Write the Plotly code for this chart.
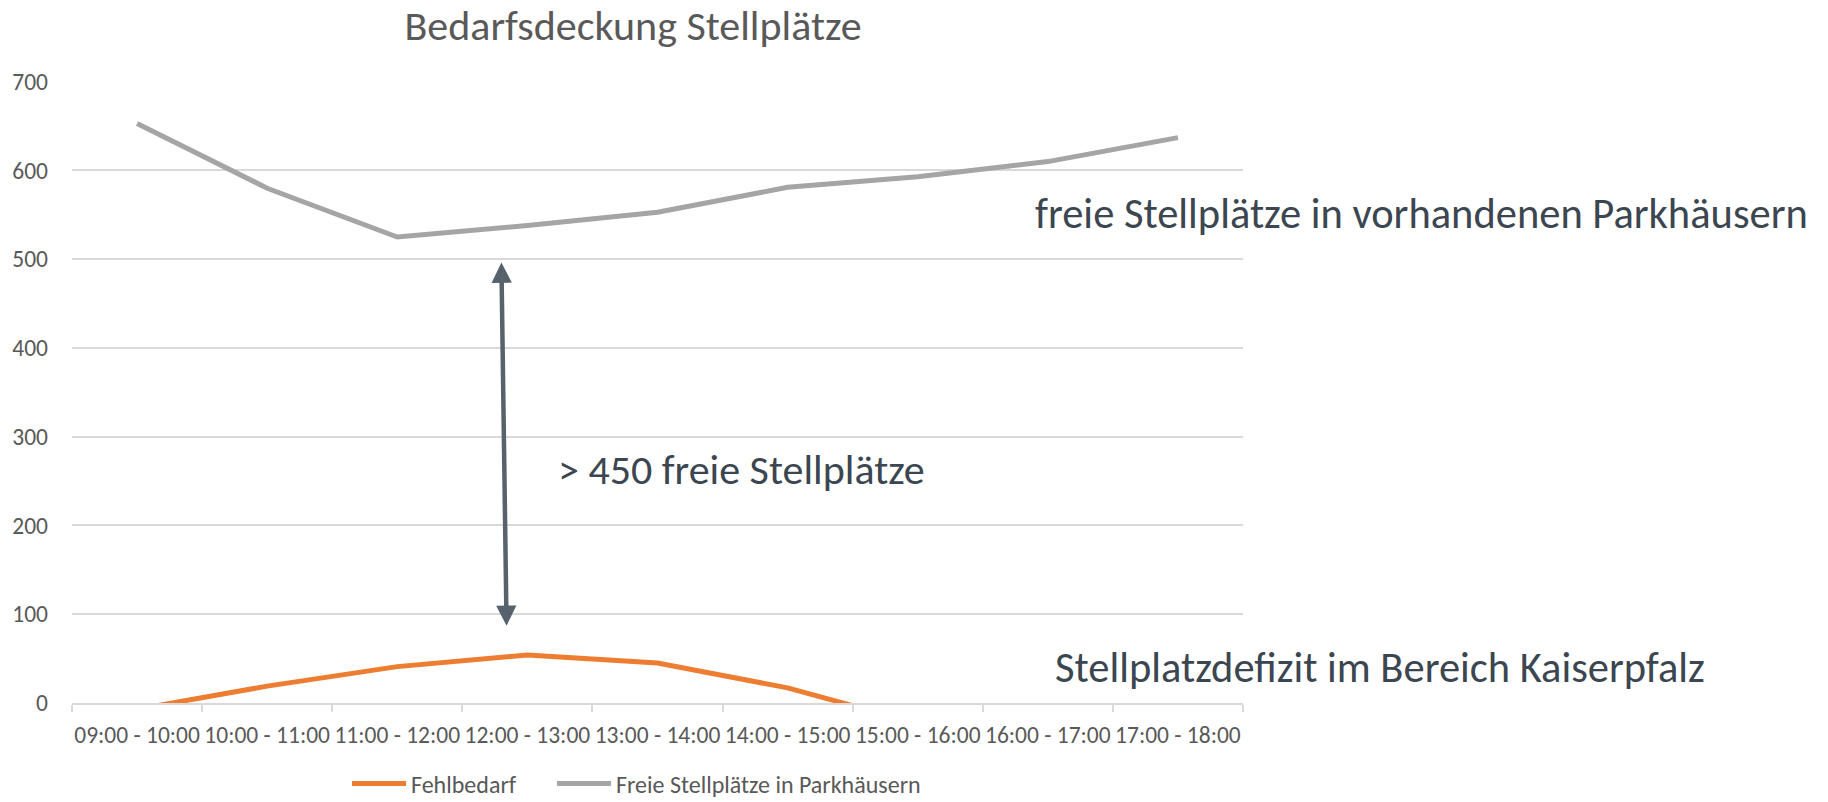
import plotly.graph_objects as go

categories = ["09:00 - 10:00", "10:00 - 11:00", "11:00 - 12:00", "12:00 - 13:00",
              "13:00 - 14:00", "14:00 - 15:00", "15:00 - 16:00", "16:00 - 17:00",
              "17:00 - 18:00"]
fehlbedarf = [-7, 19, 41, 54, 45, 17, -23, -45, -70]
freie_stellplaetze = [653, 580, 525, 538, 553, 581, 593, 610, 637]

y_ticks = [0, 100, 200, 300, 400, 500, 600, 700]

FONT = "Calibri, Carlito, 'Open Sans', sans-serif"
GRID = "#d9d9d9"
TXT = "#595959"
ANN = "#3b4650"

fig = go.Figure()
fig.add_trace(go.Scatter(x=categories, y=fehlbedarf, mode="lines", name="Fehlbedarf",
                         line=dict(color="#ed7d31", width=5), legend="legend"))
fig.add_trace(go.Scatter(x=categories, y=freie_stellplaetze, mode="lines",
                         name="Freie Stellplätze in Parkhäusern",
                         line=dict(color="#a5a5a5", width=5), legend="legend2"))

W, H = 1828, 802
L, R, T, B = 72, 1243, 81, 703
pw, ph = R - L, B - T

def px(x):
    return (x - L) / pw

def py(y):
    return (B - y) / ph

fig.update_layout(
    width=W, height=H,
    margin=dict(l=L, r=W - R, t=T, b=H - B, autoexpand=False),
    paper_bgcolor="white", plot_bgcolor="white",
    font=dict(family=FONT, color=TXT),
    title=dict(text="Bedarfsdeckung Stellplätze", x=633 / W, xref="container", xanchor="center",
               y=1 - 25 / H, yref="container", yanchor="middle",
               font=dict(size=42, color=TXT, family=FONT)),
    xaxis=dict(type="category", range=[-0.5, 8.5], showgrid=False,
               showline=True, linecolor=GRID, linewidth=1.5,
               ticks="outside", tickson="boundaries", ticklen=7, tickcolor=GRID, tickwidth=1.5,
               tickangle=0, tickfont=dict(size=23.5, color=TXT), ticklabelstandoff=10),
    yaxis=dict(range=[0, 700.8], tickvals=y_ticks, showgrid=True, gridcolor=GRID, gridwidth=1.5,
               zeroline=False, showline=False, ticks="", tickfont=dict(size=23.5, color=TXT),
               ticklabelstandoff=23),
    legend=dict(orientation="h", x=px(347), xanchor="left", y=py(784), yanchor="middle",
                font=dict(size=24, color=TXT), itemwidth=54),
    legend2=dict(orientation="h", x=px(552), xanchor="left", y=py(784), yanchor="middle",
                 font=dict(size=24, color=TXT), itemwidth=54),
    showlegend=True,
)

fig.add_annotation(x=2.84, y=87, ax=2.80, ay=498, xref="x", yref="y", axref="x", ayref="y",
                   showarrow=True, arrowside="end+start", arrowhead=2, startarrowhead=2,
                   arrowsize=0.9, startarrowsize=0.9, arrowwidth=4.5, arrowcolor="#57626c", text="")

fig.add_annotation(text="> 450 freie Stellplätze", x=px(556), y=py(469), xref="paper", yref="paper",
                   xanchor="left", yanchor="middle", showarrow=False,
                   font=dict(size=42, color=ANN, family=FONT))
fig.add_annotation(text="freie Stellplätze in vorhandenen Parkhäusern", x=px(1033), y=py(213),
                   xref="paper", yref="paper", xanchor="left", yanchor="middle", showarrow=False,
                   font=dict(size=42.5, color=ANN, family=FONT))
fig.add_annotation(text="Stellplatzdefizit im Bereich Kaiserpfalz", x=px(1053), y=py(667),
                   xref="paper", yref="paper", xanchor="left", yanchor="middle", showarrow=False,
                   font=dict(size=42.5, color=ANN, family=FONT))

fig.write_html("out.html", config={"displayModeBar": False},
               post_script="document.body.style.margin='0';")
